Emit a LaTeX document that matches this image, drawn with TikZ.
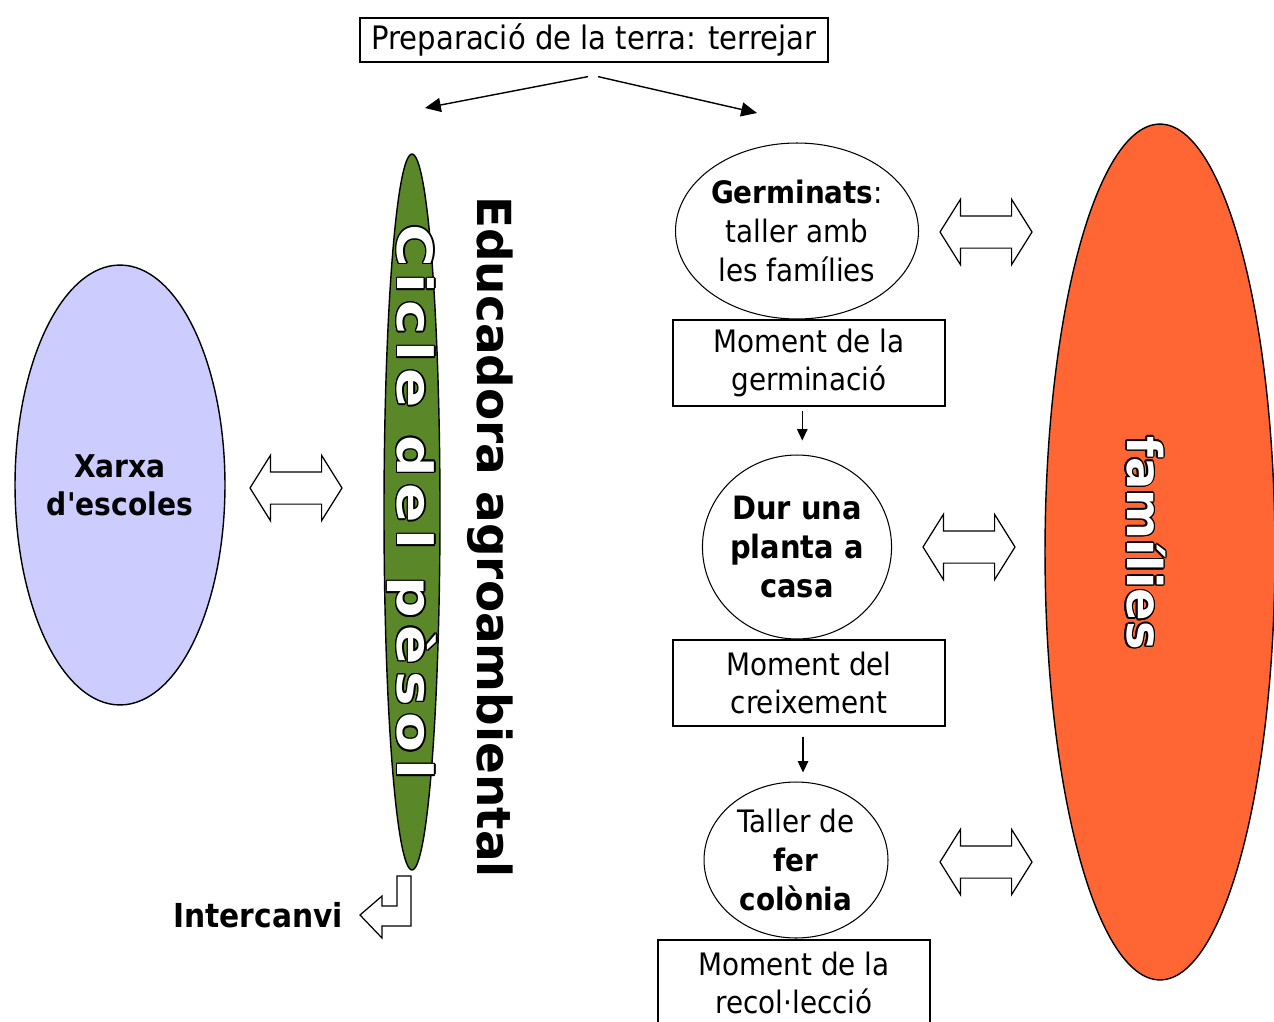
\documentclass[tikz,border=0pt]{standalone}
\usepackage{fontspec}
\setmainfont{DejaVu Sans}[FakeStretch=0.9]
\newfontfamily\xarxafont{DejaVu Sans}[FakeStretch=0.9,Ligatures=TeXOff]
\newfontfamily\heavyfont{DejaVu Sans}
\newfontfamily\widefont{DejaVu Sans}[FakeStretch=1.2,LetterSpace=14]
\usetikzlibrary{shapes.geometric,shapes.arrows,arrows.meta}
\definecolor{lav}{RGB}{204,204,255}
\definecolor{peagreen}{RGB}{90,135,40}
\definecolor{famorange}{RGB}{255,102,51}
\tikzset{
 every node/.style={inner sep=0pt},
 plainbox/.style={draw, line width=0.7pt, align=center, minimum width=5.44cm, minimum height=1.72cm, font=\fontsize{17.6}{21.6}\selectfont},
 bubble/.style={draw, ellipse, line width=0.6pt, align=center, font=\fontsize{17.6}{22.4}\selectfont},
 bigoval/.style={draw, ellipse, line width=0.8pt},
 swap/.style={draw, double arrow, line width=0.7pt, fill=white, inner xsep=0pt, inner ysep=0.31cm, minimum height=1.84cm, minimum width=1.28cm, double arrow head extend=0.33cm, double arrow tip angle=116},
 arr/.style={-{Triangle[length=9pt,width=8pt]}, line width=0.8pt},
 smallarr/.style={-{Triangle[length=6.5pt,width=6pt]}, line width=0.7pt},
}
\newcommand\outlinetext[4]{%
  \foreach \ang in {0,30,...,330}{\node[#3, text=black, shift={(\ang:0.85pt)}] at #2 {#4};}
  \node[#3, text=white] (#1) at #2 {#4};}
\begin{document}
\begin{tikzpicture}[x=0.02cm,y=-0.02cm]
\clip (0,0) rectangle (1274,1021);
\fill[white] (0,0) rectangle (1274,1021);

% top box and arrows
\node[draw, line width=0.7pt, minimum width=9.36cm, minimum height=0.88cm, font=\fontsize{18.4}{22}\selectfont] (prep) at (594,40) {Preparació de la terra: terrejar};
\coordinate (lend) at (425,108);
\coordinate (rend) at (757,113);
\draw[arr] ([shift={(-6,14)}]prep.south) -- (lend);
\draw[arr] ([shift={(4,14)}]prep.south) -- (rend);

% left: network of schools
\node[bigoval, fill=lav, minimum width=4.2cm, minimum height=8.8cm, align=center, font=\xarxafont\bfseries\fontsize{17.8}{21.6}\selectfont] (xarxa) at (120,485) {Xarxa\\d'escoles};
\node[swap] (sw1) at (296,488) {};

% green pea cycle
\node[bigoval, fill=peagreen, minimum width=1.12cm, minimum height=14.32cm] (cicle) at (412,512) {};
\outlinetext{cicletxt}{(412,502)}{rotate=-90, font=\widefont\bfseries\fontsize{27.6}{30}\selectfont}{Cicle del pèsol}
\node[rotate=-90, font=\heavyfont\bfseries\fontsize{26.7}{30}\selectfont] (educ) at (490,537) {Educadora agroambiental};

% exchange bent arrow
\draw[line width=0.7pt, fill=white] (397,876) -- (411,876) -- (411,926) -- (382,926) -- (382,938) -- (360,915) -- (382,896) -- (382,906) -- (397,906) -- cycle;
\node[font=\bfseries\fontsize{18.8}{22}\selectfont] (inter) at (258,915) {Intercanvi};

% families
\node[bigoval, fill=famorange, minimum width=4.6cm, minimum height=17.12cm] (fam) at (1160,552) {};
\outlinetext{famtxt}{(1146,543)}{rotate=-90, font=\heavyfont\bfseries\fontsize{27.3}{30}\selectfont}{famílies}

% centre column
\node[bubble, minimum width=4.32cm, minimum height=3.52cm] (c1) at (797,231) {\textbf{Germinats}:\\taller amb\\les famílies};
\node[plainbox] (b1) at (809,363) {Moment de la\\germinació};
\node[bubble, minimum width=3.72cm, minimum height=3.68cm, font=\bfseries\fontsize{18.3}{22}\selectfont] (c2) at (797,547) {Dur una\\planta a\\casa};
\node[plainbox] (b2) at (809,683) {Moment del\\creixement};
\node[bubble, minimum width=3.68cm, minimum height=3.12cm] (c3) at (796,860) {Taller de\\\textbf{fer}\\\textbf{colònia}};
\node[plainbox] (b3) at (794,983) {Moment de la\\recol·lecció};

\draw[smallarr, shorten <=0.08cm, shorten >=0.28cm] ([xshift=3]b1.south -| c2.north) -- ([xshift=3]c2.north);
\draw[smallarr, shorten <=0.2cm, shorten >=0.18cm] ([xshift=4]b2.south -| c3.north) -- ([xshift=4]c3.north);

\node[swap] (sw2) at (986,232) {};
\node[swap] (sw3) at (969,547) {};
\node[swap] (sw4) at (986,862) {};
\end{tikzpicture}
\end{document}
